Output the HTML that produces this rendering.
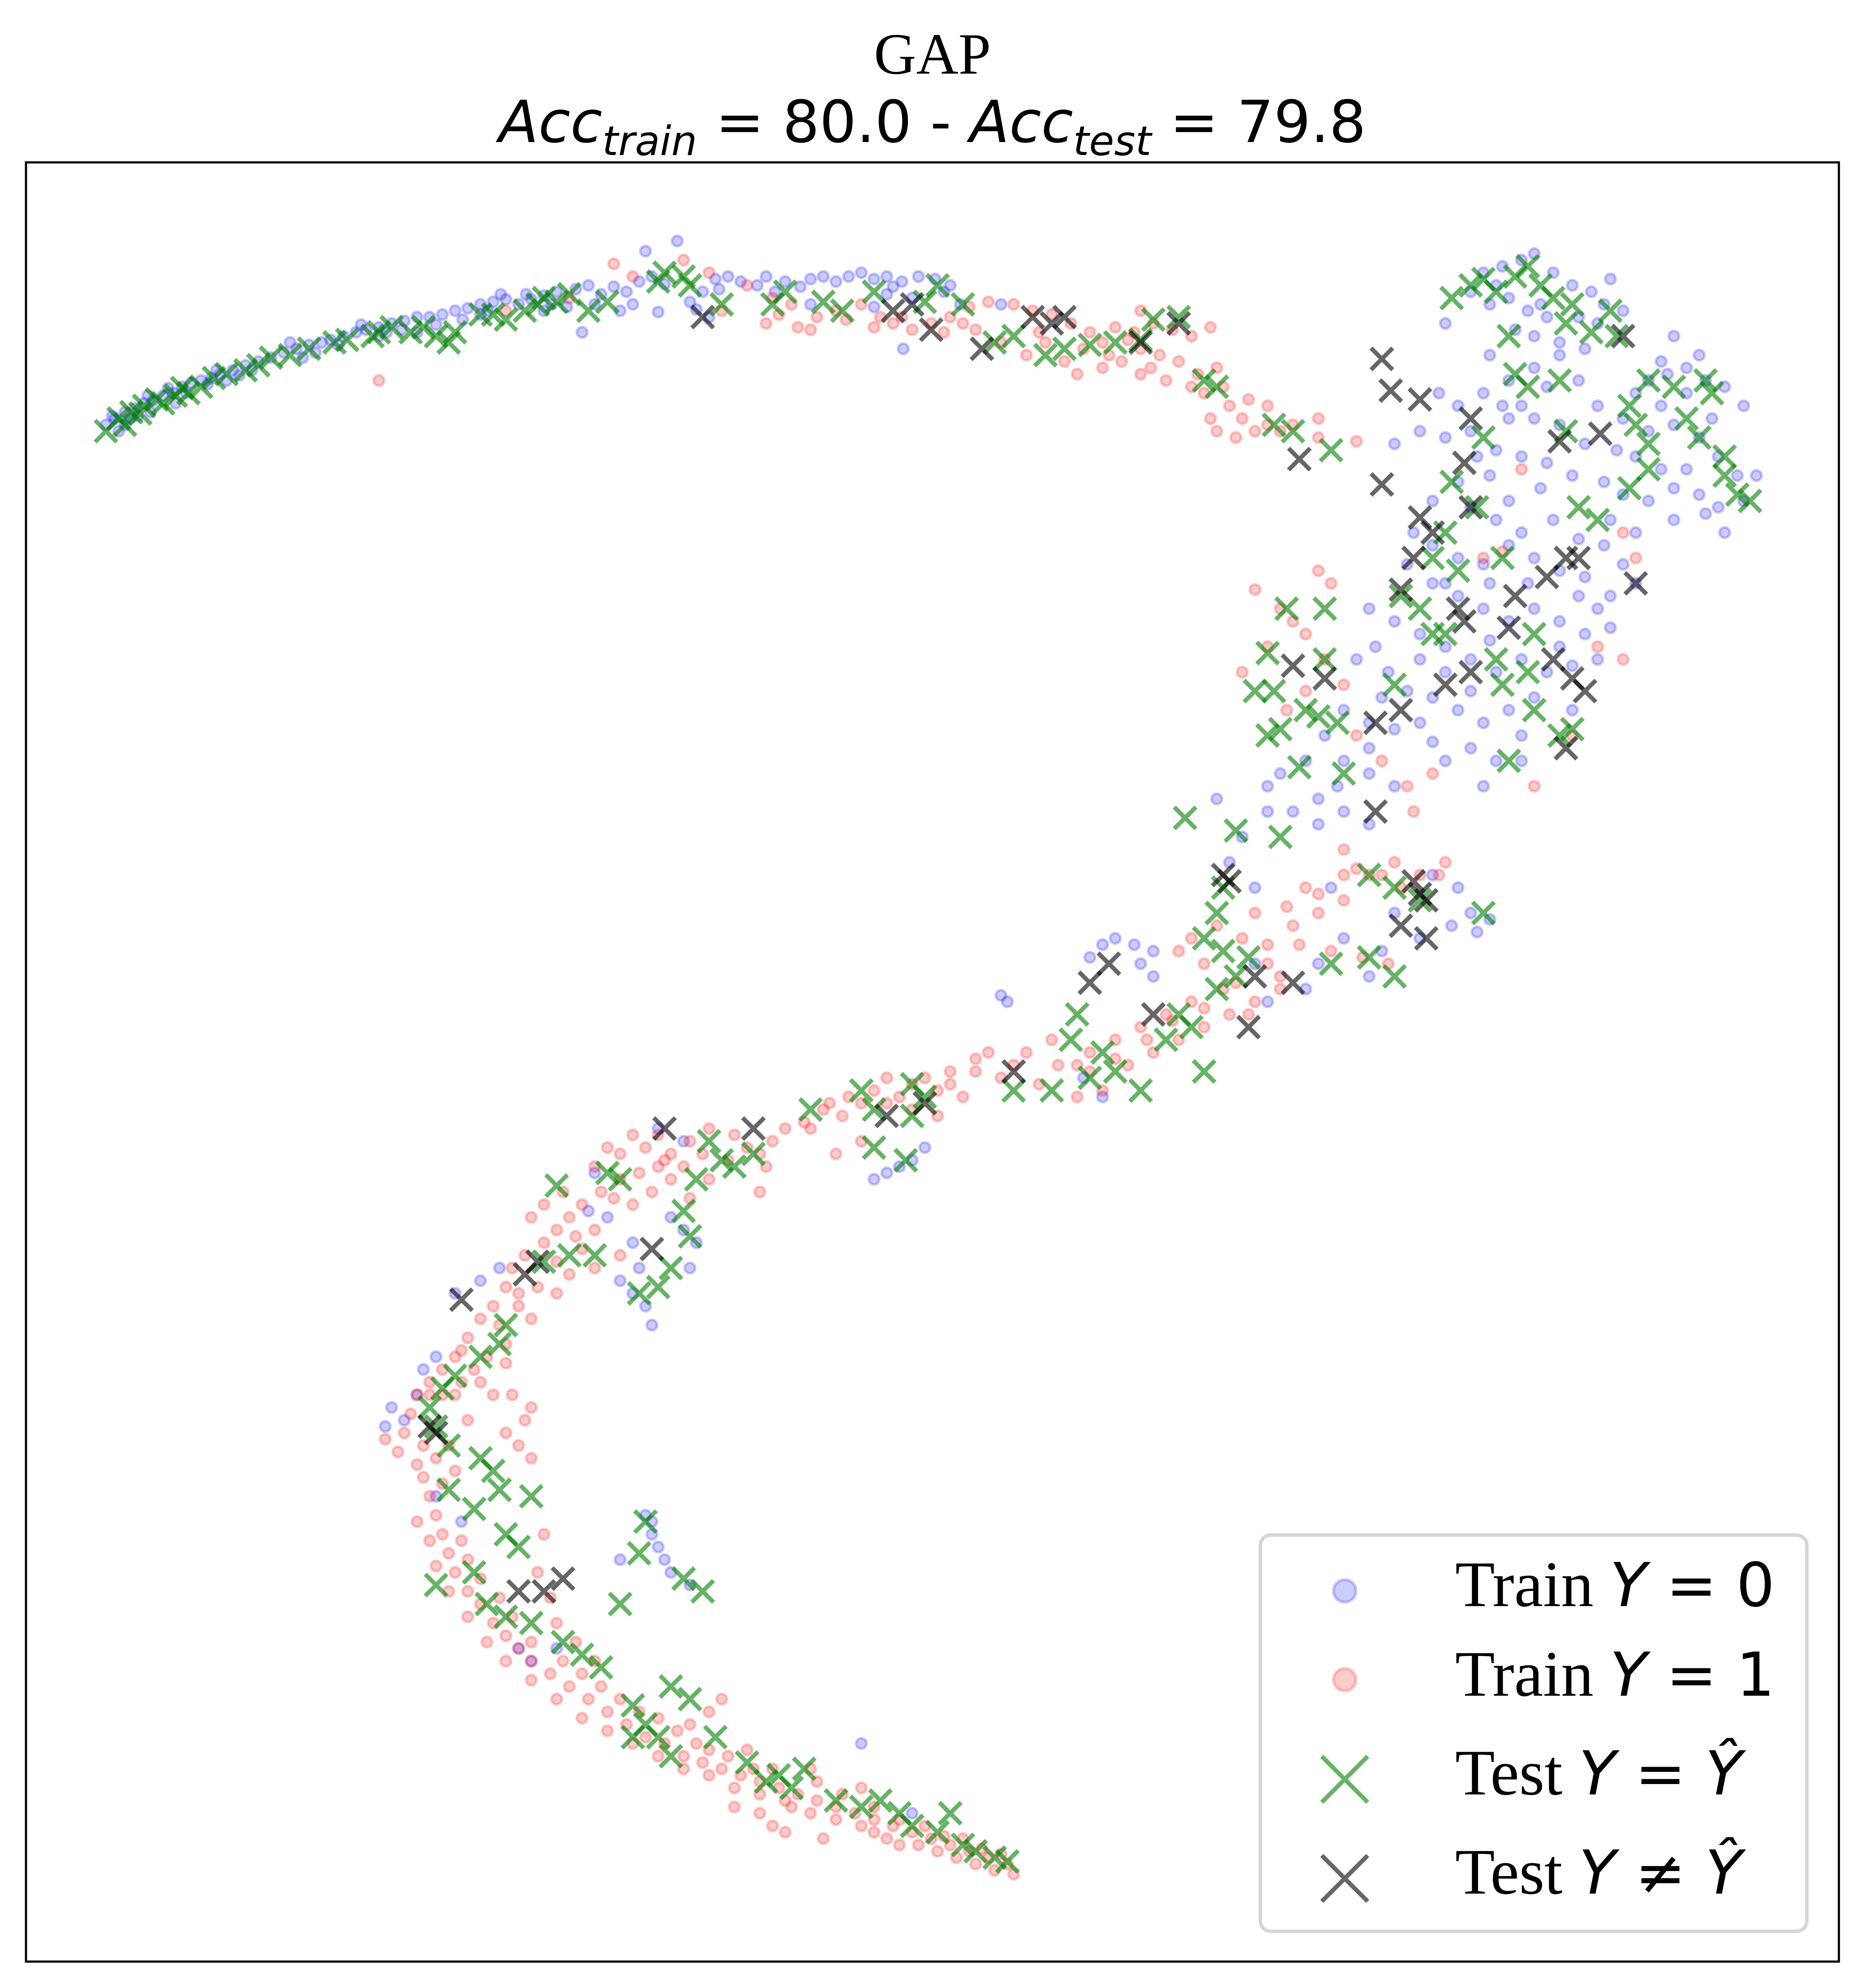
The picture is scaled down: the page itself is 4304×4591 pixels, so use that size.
<!DOCTYPE html>
<html><head><meta charset="utf-8"><style>
html,body{margin:0;padding:0;background:#fff;}
svg{display:block;}
</style></head><body>
<svg id="chart" width="4304" height="4591" viewBox="0 0 4304 4591" xmlns="http://www.w3.org/2000/svg">
<rect width="4304" height="4591" fill="#fff"/>
<text x="2153" y="170" text-anchor="middle" font-family="Liberation Serif, serif" font-size="135">GAP</text>
<text x="2153" y="328" text-anchor="middle" font-family="DejaVu Sans, sans-serif" font-size="134"><tspan font-style="italic">Acc</tspan><tspan font-style="italic" font-size="94" dy="30">train</tspan><tspan dy="-30"> = 80.0 - </tspan><tspan font-style="italic">Acc</tspan><tspan font-style="italic" font-size="94" dy="30">test</tspan><tspan dy="-30"> = 79.8</tspan></text>
<g id="marks"></g>
<rect x="60" y="375" width="4186" height="4155" fill="none" stroke="#000" stroke-width="5"/>
<g>
<rect x="2910" y="3545" width="1262" height="915" rx="24" fill="#fff" fill-opacity="0.85" stroke="#d6d6d6" stroke-width="8"/>
<circle cx="3105" cy="3674" r="26" fill="#00f" fill-opacity="0.2" stroke="#00f" stroke-opacity="0.2" stroke-width="7"/>
<text x="3360" y="3709" font-family="Liberation Serif, serif" font-size="150">Train <tspan font-family="DejaVu Sans, sans-serif" font-style="italic" font-size="140">Y</tspan><tspan font-family="DejaVu Sans, sans-serif" font-size="140"> = 0</tspan></text>
<circle cx="3105" cy="3879" r="26" fill="#f00" fill-opacity="0.2" stroke="#f00" stroke-opacity="0.2" stroke-width="7"/>
<text x="3360" y="3916" font-family="Liberation Serif, serif" font-size="150">Train <tspan font-family="DejaVu Sans, sans-serif" font-style="italic" font-size="140">Y</tspan><tspan font-family="DejaVu Sans, sans-serif" font-size="140"> = 1</tspan></text>
<path d="M3052 4056 L3158 4162 M3052 4162 L3158 4056" stroke="#008000" stroke-opacity="0.6" stroke-width="10"/>
<text x="3360" y="4144" font-family="Liberation Serif, serif" font-size="150">Test <tspan font-family="DejaVu Sans, sans-serif" font-style="italic" font-size="140">Y</tspan><tspan font-family="DejaVu Sans, sans-serif" font-size="140"> = </tspan><tspan font-family="DejaVu Sans, sans-serif" font-style="italic" font-size="140">Ŷ</tspan></text>
<path d="M3052 4285 L3158 4391 M3052 4391 L3158 4285" stroke="#000" stroke-opacity="0.6" stroke-width="10"/>
<text x="3360" y="4373" font-family="Liberation Serif, serif" font-size="150">Test <tspan font-family="DejaVu Sans, sans-serif" font-style="italic" font-size="140">Y</tspan><tspan font-family="DejaVu Sans, sans-serif" font-size="140"> ≠ </tspan><tspan font-family="DejaVu Sans, sans-serif" font-style="italic" font-size="140">Ŷ</tspan></text>
</g>
</svg>
<script>
const trainY0 = [[85,335],[92,330],[100,325],[108,322],[115,318],[122,316],[130,312],[138,310],[145,305],[152,302],[160,300],[168,298],[175,295],[185,292],[195,288],[205,285],[215,282],[225,278],[235,275],[245,272],[255,270],[262,268],[272,265],[282,262],[290,260],[300,258],[310,255],[320,253],[330,250],[340,250],[350,248],[360,245],[370,243],[380,240],[390,238],[400,236],[410,240],[420,236],[430,233],[440,230],[455,228],[465,225],[475,232],[485,226],[495,230],[505,222],[515,218],[525,224],[535,190],[510,198],[545,238],[555,230],[565,220],[575,218],[585,222],[598,225],[605,218],[620,222],[640,220],[650,218],[660,222],[670,218],[680,215],[690,220],[700,218],[712,222],[725,218],[738,220],[750,225],[758,240],[700,232],[640,240],[560,250],[490,245],[460,262],[330,262],[250,278],[180,300],[140,318],[110,328],[95,340],[120,325],[200,292],[100,335],[165,303],[300,265],[380,248],[430,245],[720,235],[790,240],[713,275],
[90,328],[104,330],[118,312],[134,306],[148,310],[172,292],[190,296],[230,270],[240,282],[268,272],[286,256],[306,262],[318,260],[345,256],[366,252],[386,245],[396,232],[416,232],[436,240],[448,242],[470,240],[500,240],[520,246],[550,244],[568,228],[612,230],[632,226],[690,242],[705,226],[745,230],
[1170,215],[1185,210],[1200,205],[1210,200],[1225,215],[1240,225],[1255,230],[1270,220],[1160,230],[1175,240],[1190,235],[1205,245],[1220,250],[1245,250],[1260,255],[1280,245],[1195,260],[1210,265],[1230,270],[1250,275],[1175,280],[1140,255],[1320,265],[1340,280],[1300,300],[1315,295],[1330,290],[1345,300],[1360,305],[1375,320],[1290,310],[1280,330],[1300,340],[1320,335],[1340,345],[1355,360],[1370,375],[1385,375],[1290,360],[1310,370],[1320,385],[1340,390],[1355,400],[1300,395],[1280,390],[1265,380],[1270,410],[1290,420],[1320,410],[1345,405],[1375,395],[1360,420],[1230,280],[1210,290],[1190,300],[1170,310],[1150,320],[1135,310],[1120,340],[1100,350],[1140,345],[1160,340],[1180,355],[1200,360],[1220,365],[1240,375],[1250,350],[1230,335],[1200,320],[1220,305],[1245,300],[1260,320],[1190,330],[1175,375],[1150,380],[1130,395],[1160,400],[1180,410],[1200,420],[1225,410],[1245,425],[1265,430],[1280,445],[1290,460],[1270,470],[1250,455],[1230,450],[1210,440],[1190,430],[1170,445],[1150,440],[1130,430],[1115,420],[1110,445],[1130,460],[1150,470],[1170,480],[1190,490],[1210,480],[1230,490],[1250,500],[1270,495],[1260,520],[1240,525],[1220,530],[1200,520],[1180,530],[1160,520],[1140,510],[1120,500],[1100,490],[1080,480],[1085,510],[1095,530],[1110,545],[1130,550],[1150,560],[1170,570],[1190,560],[1210,550],[1160,545],[1120,570],[1100,575],[1080,570],[1060,560],[1045,580],[1060,600],[1080,610],[1100,620],[1030,600],[1010,610],[1000,620],[1040,630],[1060,640],[1080,650],[1020,640],[1000,640],[960,630],[980,660],[970,680],[990,700],[1040,650],[1080,590],[1140,600],[1160,590],[1200,580],[1180,600],[1240,560],[1200,600],
[1180,225],[1215,240],[1265,240],[1310,285],[1330,310],[1350,330],[1310,320],[1275,355],[1330,370],[1210,330],[1185,320],[1165,360],[1215,385],[1190,395],[1140,460],[1175,460],[1205,460],[1245,470],[1260,480],[1120,520],[1140,530],[1175,505],[1230,510],[1070,520],[1090,550],[1130,585],[1055,620],[1170,620],
[1130,690],[1150,700],[1160,720],[1175,725],[1165,735],[1145,730],[1120,740],[1100,720],[1050,700],[1060,740],[1040,760],[1030,780],[1000,790],[990,760],[1080,770],[1090,750],[870,745],[880,740],[895,745],[910,750],[860,755],[900,760],[910,770],[790,785],[795,790],[870,865],[855,850],
[520,890],[540,900],[470,925],[480,960],[500,980],[490,1010],[500,1020],[510,1030],[515,1045],[540,970],[550,980],[545,1000],[690,930],[700,925],[710,920],[720,915],[730,905],[395,1000],[380,1010],[360,1020],[345,1070],[335,1080],[310,1110],[305,1125],[330,1100],[510,1195],[515,1210],[520,1220],[525,1230],[490,1230],[530,1240],[545,1250],[410,1300],[420,1310],[440,1300],[680,1375],[720,1430],[345,1180],[365,1200],[465,955],[530,960],[505,1000],[320,1120],[515,1200]];

const trainY1 = [[485,208],[540,205],[560,215],[590,225],[610,235],[625,240],[630,258],[645,250],[660,245],[680,240],[695,250],[705,255],[720,260],[735,255],[750,250],[765,242],[780,238],[800,240],[815,245],[830,248],[845,255],[860,262],[870,270],[880,258],[895,262],[910,255],[925,260],[940,265],[955,258],[960,290],[930,285],[915,280],[900,275],[885,285],[870,290],[850,295],[840,285],[825,270],[810,280],[900,295],[920,300],[940,305],[950,310],[970,320],[980,330],[960,340],[975,345],[1000,335],[1010,340],[1040,345],[1070,348],[300,300],[400,245],[450,235],[500,218],[570,245],[605,255],[640,260],[900,245],[1000,320],[1040,330],[770,260],[790,270],
[615,248],[668,252],[690,258],[712,250],[745,262],[760,255],[820,262],[855,275],[875,280],[890,268],[908,290],[945,295],[965,305],[985,315],[990,340],[955,330],[1020,335],
[1040,450],[1050,460],[990,465],[1010,480],[1020,490],[1000,510],[1030,500],[1045,520],[1060,540],[1015,560],[1030,545],[980,530],[1070,580],[1090,600],[1110,620],[1130,610],[1240,580],[1280,420],[1290,440],[1260,510],[1280,520],[1200,370],[1170,440],[1185,435],[1210,620],[1115,640],[1060,670],[1070,685],[1080,690],[1100,680],[1120,690],[1135,690],[1140,680],[1060,710],[1040,720],[1020,730],[1025,745],[1050,750],[1075,755],[1095,760],[990,720],[980,740],[960,730],[940,740],[930,750],[950,760],[965,780],[940,790],[920,800],[900,810],[880,820],[860,830],[850,840],[830,820],[810,830],[800,840],[780,830],[770,845],[750,855],[740,860],[720,855],[700,850],[690,860],[680,870],[665,880],[650,875],[635,885],[620,890],[610,900],[600,910],[580,895],[560,890],[545,900],[530,910],[520,920],[505,925],[490,930],[475,940],[460,950],[450,960],[440,970],[430,980],[415,990],[405,1000],[400,1015],[390,1030],[380,1040],[370,1055],[360,1070],[350,1080],[340,1090],[330,1100],[325,1115],[320,1130],[305,1135],[315,1145],[330,1155],[335,1165],[340,1180],[345,1195],[350,1210],[355,1225],[360,1240],[370,1255],[380,1265],[390,1280],[400,1290],[410,1300],[420,1310],[435,1320],[450,1330],[465,1340],[480,1350],[495,1360],[510,1370],[525,1375],[540,1385],[555,1390],[570,1395],[585,1400],[600,1405],[615,1410],[630,1415],[645,1420],[660,1425],[675,1430],[690,1435],[705,1440],[720,1445],[735,1450],[750,1455],[765,1460],[780,1465],[795,1470],[800,1478],[785,1475],[770,1470],[755,1465],[740,1460],[725,1455],[700,1450],[680,1440],[660,1435],[640,1430],[620,1420],[600,1415],[580,1410],[560,1400],[540,1395],[520,1385],[500,1375],[480,1365],[460,1355],[440,1340],[420,1325],[400,1310],[385,1295],[370,1275],[355,1255],[345,1235],[340,1215],[330,1200],[420,1110],[415,1120],[410,1140],[420,1150],[400,1130],[405,1100],[430,1210],[425,1240],[435,1260],[440,1280],[455,1295],[470,1310],[560,1350],[570,1340],[590,1380],[640,1395],[680,1410],[610,1440],[650,1450],[420,960],[430,950],[445,940],[470,970],[460,985],[500,950],[515,940],[530,930],[545,945],[560,930],[575,915],[590,905],[605,920],[600,940],[470,920],[480,905],[490,910],[500,895],[520,895],[660,910],[680,900],[700,870],[720,875],[740,880],[760,865],[790,850],[820,855],[850,865],[870,860],[890,840],[910,830],[930,820],[950,810],[970,800],[990,790],[1010,780],[1000,760],[1030,700],[1060,690],[380,1090],[390,1100],[370,1120],[355,1140],[350,1100],[365,1065],[400,1060],[420,1040],[440,1020],[450,1005],[470,1000],[490,990],[410,1020],[395,1045],[385,1070],[360,1100],
[510,905],[525,915],[540,920],[555,910],[485,945],[455,975],[440,995],[425,1015],[410,1030],[400,1075],[375,1080],[365,1090],[340,1100],[335,1140],[345,1150],[360,1160],[350,1170],[365,1215],[370,1230],[380,1245],[395,1260],[405,1275],[420,1295],[445,1310],[460,1320],[475,1330],[490,1340],[505,1350],[520,1355],[535,1365],[550,1375],[575,1385],[595,1395],[610,1395],[625,1425],[645,1405],[665,1415],[690,1425],[710,1435],[730,1440],[745,1448],[760,1450],[775,1458],[790,1462],[545,1360],[560,1380],[580,1425],[600,1430],[620,1445],[690,1445],[710,1455],[640,890],[655,870],[670,865],[710,865],[730,850],[750,845],[770,835],[835,840],[860,845],[880,835],[905,820],[925,805],[950,795],[975,775],[1000,745],[1015,715],[1040,705],[1090,690],[1105,700],[1010,770],[985,800]];

const testCorrect = [[85,340],[95,330],[105,325],[115,320],[130,318],[140,312],[150,310],[160,305],[180,295],[205,288],[215,282],[245,275],[275,268],[295,265],[310,258],[325,262],[345,265],[355,270],[380,248],[400,252],[415,245],[425,240],[440,238],[450,232],[465,245],[480,238],[520,222],[525,215],[540,218],[545,225],[570,240],[610,240],[620,230],[650,238],[665,245],[690,230],[730,238],[740,225],[760,240],[785,270],[800,265],[825,280],[840,275],[860,272],[880,270],[900,268],[910,252],[930,250],[950,300],[960,305],[1005,335],[1050,355],[1020,340],
[100,335],[112,326],[125,315],[145,306],[170,298],[195,292],[230,280],[265,270],[300,262],[335,258],[360,262],[390,248],[430,235],
[1145,235],[1160,225],[1170,220],[1180,230],[1195,218],[1205,210],[1215,225],[1225,235],[1240,240],[1235,255],[1255,262],[1270,245],[1275,265],[1190,265],[1300,300],[1320,305],[1345,300],[1350,310],[1285,320],[1290,335],[1330,330],[1340,345],[1360,360],[1370,390],[1380,395],[1360,375],[1300,370],[1285,385],[1300,350],[1230,300],[1195,295],[1205,305],[1170,345],[1145,380],[1165,400],[1235,340],[1245,400],[1260,410],[1185,440],[1140,420],[1130,440],[1105,470],[1120,480],[1130,500],[1045,480],[1015,480],[1000,515],[1005,545],[990,545],[1000,580],[1010,575],[1030,560],[1040,565],[1055,570],[1045,520],[1060,610],[1025,605],[935,645],[975,655],[1100,540],[1140,500],[1180,520],[1185,540],[1205,530],[1210,560],[1190,600],[1230,580],[1240,575],[1210,500],[1150,450],
[1010,660],[1080,690],[1100,700],[1120,710],[1170,720],[965,700],[960,720],[950,740],[965,750],[985,755],[975,770],[960,780],[1050,760],[1080,755],[1100,770],[930,800],[940,810],[920,820],[950,845],[870,830],[860,850],[880,845],[900,860],[850,800],[845,820],[800,860],[830,860],[720,855],[730,865],[690,875],[640,875],[680,860],[720,880],[690,905],[715,915],[560,900],[570,915],[580,920],[595,910],[550,930],[540,955],[545,975],[530,1000],[505,1020],[520,1015],[490,930],[480,925],[440,935],[450,990],[430,995],[470,990],[400,1045],[395,1060],[380,1070],[360,1085],[350,1095],[340,1110],[345,1125],[355,1140],[380,1150],[390,1160],[395,1175],[355,1175],[375,1190],[420,1180],[400,1210],[410,1220],[345,1250],[375,1240],[385,1265],[400,1275],[420,1280],[445,1295],[460,1305],[475,1315],[490,1265],[510,1200],[505,1225],[540,1245],[555,1255],[500,1345],[510,1360],[520,1370],[530,1330],[545,1340],[565,1370],[590,1390],[605,1405],[615,1400],[625,1410],[635,1395],[660,1420],[680,1425],[695,1420],[710,1430],[720,1440],[740,1445],[750,1430],[760,1455],[770,1460],[785,1465],[795,1468],[530,1385],[500,1370]];

const testWrong = [[555,250],[705,245],[720,240],[735,260],[775,275],[815,250],[830,255],[840,250],[900,270],[930,255],[1025,362],[1090,283],[1097,308],[1120,315],[1160,330],[1155,365],[1090,382],[1230,348],[1262,342],[1280,265],[1120,408],[1130,420],[1115,440],[1105,465],[1160,400],[1195,470],[1220,455],[1235,440],[1245,440],[1290,460],[1150,480],[1155,490],[1190,495],[1225,520],[1240,535],[1250,545],[1140,540],[1160,530],[1085,570],[1105,560],[1020,525],[1045,535],[1235,590],[1085,640],[965,690],[970,695],[1115,695],[1120,705],[1125,710],[1105,730],[1125,740],[990,770],[1020,775],[985,810],[910,800],[860,775],[875,760],[800,845],[730,870],[700,880],[595,890],[525,890],[515,985],[425,995],[415,1005],[365,1025],[340,1125],[345,1130],[430,1255],[445,1245],[410,1255]];

const xDomain = [22, 1450], yDomain = [128, 1547];
const xRange = [60, 4246], yRange = [375, 4530];
function xScale(v){ return xRange[0] + (v - xDomain[0]) / (xDomain[1] - xDomain[0]) * (xRange[1] - xRange[0]); }
function yScale(v){ return yRange[0] + (v - yDomain[0]) / (yDomain[1] - yDomain[0]) * (yRange[1] - yRange[0]); }
const NS = 'http://www.w3.org/2000/svg';
const g = document.getElementById('marks');
function dot(p, color, name){
  const c = document.createElementNS(NS, 'circle');
  c.setAttribute('cx', xScale(p[0]).toFixed(1));
  c.setAttribute('cy', yScale(p[1]).toFixed(1));
  c.setAttribute('r', 12);
  c.setAttribute('fill', color); c.setAttribute('fill-opacity', 0.2);
  c.setAttribute('stroke', color); c.setAttribute('stroke-opacity', 0.22); c.setAttribute('stroke-width', 6);
  
  
  g.appendChild(c);
}
function cross(p, color, name){
  const x = xScale(p[0]), y = yScale(p[1]), s = 25;
  const e = document.createElementNS(NS, 'path');
  e.setAttribute('d', `M${x-s} ${y-s} L${x+s} ${y+s} M${x-s} ${y+s} L${x+s} ${y-s}`);
  e.setAttribute('stroke', color); e.setAttribute('stroke-opacity', 0.6); e.setAttribute('stroke-width', 10);
  
  
  g.appendChild(e);
}
trainY0.forEach(p => dot(p, '#0000ff', 'train-y0-point'));
trainY1.forEach(p => dot(p, '#ff0000', 'train-y1-point'));
testCorrect.forEach(p => cross(p, '#008000', 'test-correct-point'));
testWrong.forEach(p => cross(p, '#000000', 'test-wrong-point'));
</script>
</body></html>
